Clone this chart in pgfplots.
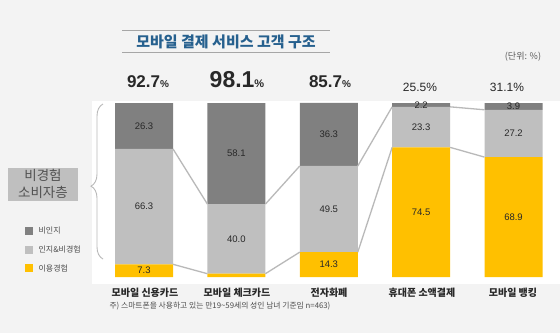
\documentclass[border=0pt]{standalone}
\usepackage{pgfplots}
\pgfplotsset{compat=1.18}
\usepackage{fontspec}
\setmainfont{Liberation Sans}
\newfontfamily\kr{Noto Sans CJK KR}
\usetikzlibrary{decorations.pathreplacing}
\definecolor{cy}{RGB}{255,192,0}
\definecolor{cl}{RGB}{191,191,191}
\definecolor{cd}{RGB}{128,128,128}
\definecolor{lc}{RGB}{185,185,185}
\definecolor{bg}{RGB}{243,243,243}
\definecolor{tb}{RGB}{38,96,142}
\definecolor{tx}{RGB}{40,40,40}
\tikzset{conn/.style={lc, line width=1.3pt, mark=none}}
\begin{document}
\begin{tikzpicture}
\begin{scope}[x=1pt,y=-1pt]
\fill[bg] (0,0) rectangle (560,333);
\fill[white] (92,101) rectangle (560,284);
\end{scope}
% bars
\begin{axis}[at={(88.6pt,-277pt)}, anchor=south west, scale only axis,
  width=471.1pt, height=174pt, xmin=-0.6, xmax=4.5, ymin=0, ymax=100,
  hide axis, ybar stacked, bar width=58pt, clip=false]
\addplot[fill=cy, draw=none] coordinates {(0,7.3) (1,1.9) (2,14.3) (3,74.5) (4,68.9)};
\addplot[fill=cl, draw=none] coordinates {(0,66.3) (1,40.0) (2,49.5) (3,23.3) (4,27.2)};
\addplot[fill=cd, draw=none] coordinates {(0,26.3) (1,58.1) (2,36.3) (3,2.2) (4,3.9)};
\end{axis}
% connecting lines and labels
\begin{axis}[at={(88.6pt,-277pt)}, anchor=south west, scale only axis,
  width=471.1pt, height=174pt, xmin=-0.6, xmax=4.5, ymin=0, ymax=100,
  hide axis, clip=false]
\addplot[conn] coordinates {(0.314,7.3) (0.686,1.9)};
\addplot[conn] coordinates {(0.314,73.6) (0.686,41.9)};
\addplot[conn] coordinates {(1.314,1.9) (1.686,14.3)};
\addplot[conn] coordinates {(1.314,41.9) (1.686,63.8)};
\addplot[conn] coordinates {(2.314,14.3) (2.686,74.5)};
\addplot[conn] coordinates {(2.314,63.8) (2.686,97.8)};
\addplot[conn] coordinates {(3.314,74.5) (3.686,68.9)};
\addplot[conn] coordinates {(3.314,97.8) (3.686,96.1)};
\begin{scope}[every node/.style={font=\fontsize{9.5}{10}\selectfont, text=tx}]
\node at (axis cs:0,3.65) {7.3};
\node at (axis cs:0,40.45) {66.3};
\node at (axis cs:0,86.75) {26.3};
\node at (axis cs:1,21.9) {40.0};
\node at (axis cs:1,70.95) {58.1};
\node at (axis cs:2,7.15) {14.3};
\node at (axis cs:2,39.05) {49.5};
\node at (axis cs:2,81.95) {36.3};
\node at (axis cs:3,37.25) {74.5};
\node at (axis cs:3,86.15) {23.3};
\node at (axis cs:3,98.9) {2.2};
\node at (axis cs:4,34.45) {68.9};
\node at (axis cs:4,82.5) {27.2};
\node at (axis cs:4,98.05) {3.9};
\end{scope}
\end{axis}
\begin{scope}[x=1pt,y=-1pt]
% title
\draw[gray!70, line width=0.8pt] (122,30) -- (330,30);
\draw[gray!70, line width=0.8pt] (122,52) -- (330,52);
\node[text=tb, font=\kr\bfseries\fontsize{15}{15}\selectfont] at (226,41.5) {모바일 결제 서비스 고객 구조};
\node[text=black!65, font=\kr\fontsize{9}{9}\selectfont] at (523,57) {(단위: \%)};
% totals
\node[text=tx, font=\bfseries] at (148,82) {\fontsize{17}{17}\selectfont 92.7{\fontsize{10}{10}\selectfont\%}};
\node[text=tx, font=\bfseries] at (237,80) {\fontsize{23}{23}\selectfont 98.1{\fontsize{11}{11}\selectfont\%}};
\node[text=tx, font=\bfseries] at (330,82) {\fontsize{17}{17}\selectfont 85.7{\fontsize{10}{10}\selectfont\%}};
\node[text=tx] at (420,87) {\fontsize{12}{12}\selectfont 25.5\%};
\node[text=tx] at (507,87) {\fontsize{12}{12}\selectfont 31.1\%};
% brace
\draw[lc, line width=0.9pt, decorate, decoration={brace, amplitude=12pt, aspect=0.47}] (103,259) -- (103,104);
% box
\fill[cl] (8,168) rectangle (78,201);
\node[text=black!68, font=\kr\fontsize{13.5}{13.5}\selectfont] at (43,175.5) {비경험};
\node[text=black!68, font=\kr\fontsize{13.5}{13.5}\selectfont] at (43,192.5) {소비자층};
% legend
\fill[cd] (25,227) rectangle (33,235);
\fill[cl] (25,245.5) rectangle (33,253.5);
\fill[cy] (25,264) rectangle (33,272);
\node[anchor=west, text=black!70, font=\kr\fontsize{8}{8}\selectfont] at (35,231) {비인지};
\node[anchor=west, text=black!70, font=\kr\fontsize{8}{8}\selectfont] at (35,249.5) {인지\&비경험};
\node[anchor=west, text=black!70, font=\kr\fontsize{8}{8}\selectfont] at (35,268) {이용경험};
% categories
\begin{scope}[every node/.style={text=tx, font=\kr\bfseries\fontsize{10}{10}\selectfont}]
\node at (145,293) {모바일 신용카드};
\node at (237,293) {모바일 체크카드};
\node at (329,293) {전자화폐};
\node at (422,293) {휴대폰 소액결제};
\node at (513,293) {모바일 뱅킹};
\end{scope}
\node[anchor=west, text=black!70, font=\kr\fontsize{7.8}{8}\selectfont] at (106,306) {주) 스마트폰을 사용하고 있는 만19\textasciitilde59세의 성인 남녀 기준임 n=463)};
\end{scope}
\end{tikzpicture}
\end{document}
